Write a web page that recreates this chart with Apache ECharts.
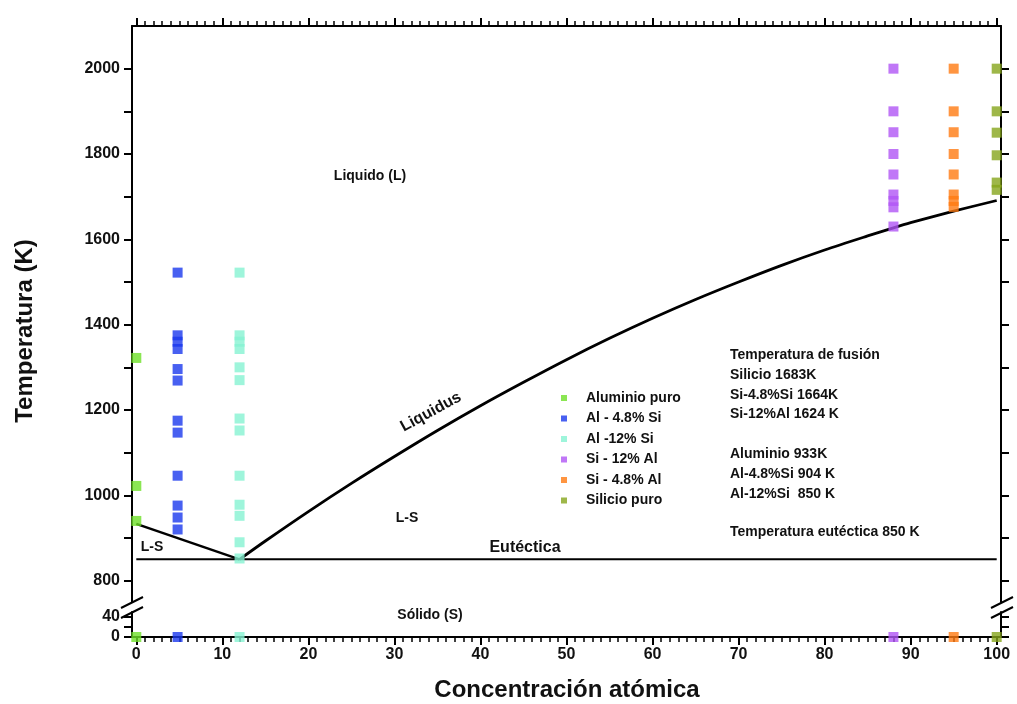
<!DOCTYPE html>
<html><head><meta charset="utf-8">
<script src="https://cdn.jsdelivr.net/npm/echarts@6/dist/echarts.min.js"></script>
<style>html,body{margin:0;padding:0;background:#fff}#c{width:1017px;height:704px}</style>
</head><body><div id="c"></div>
<script>
// ---- data ----
const seriesNames = ['Aluminio puro', 'Al - 4.8% Si', 'Al -12% Si', 'Si - 12% Al', 'Si - 4.8% Al', 'Silicio puro'];
const seriesColors = ['#6ee028', '#1a38ee', '#86f2d2', '#b055f5', '#ff7a12', '#86a51c'];
const compositions = [0, 4.8, 12, 88, 95, 100];
const alPuroT = [1322, 1022, 940];
const al48T = [1522, 1375, 1360, 1343, 1296, 1269, 1175, 1147, 1046, 976, 948, 920];
const al12T = [1522, 1375, 1360, 1343, 1300, 1270, 1180, 1152, 1046, 978, 952, 890, 852];
const si12T = [2000, 1900, 1851, 1800, 1752, 1705, 1690, 1675, 1630];
const si48T = [2000, 1900, 1851, 1800, 1752, 1705, 1690, 1676];
const siPuroT = [2000, 1900, 1850, 1797, 1733, 1716];
const solidT = [0, 0, 0, 0, 0, 0];
const liquidusX = [12, 15, 20, 25, 30, 35, 40, 45, 50, 55, 60, 65, 70, 75, 80, 85, 88, 90, 95, 100];
const liquidusT = [850, 893, 962, 1028, 1091, 1152, 1210, 1265, 1318, 1368, 1415, 1459, 1500, 1539, 1575, 1608, 1627, 1639, 1666, 1691];
const alSideX = [0, 12];
const alSideT = [933, 850];
const eutecticX = [0, 100];
const eutecticT = [850, 850];
const xMajorTicks = [0, 10, 20, 30, 40, 50, 60, 70, 80, 90, 100];
const xMinorTicks = Array.from({length: 101}, (_, i) => i);
const yUpperTicks = [800, 900, 1000, 1100, 1200, 1300, 1400, 1500, 1600, 1700, 1800, 1900, 2000];
const yUpperLabels = [800, 1000, 1200, 1400, 1600, 1800, 2000];
const yLowerTicks = [0, 20, 40];
const yLowerLabels = [0, 40];
const infoLines = [
  ['Temperatura de fusión', 355], ['Silicio 1683K', 375], ['Si-4.8%Si 1664K', 395], ['Si-12%Al 1624 K', 414],
  ['Aluminio 933K', 454], ['Al-4.8%Si 904 K', 474], ['Al-12%Si  850 K', 494], ['Temperatura eutéctica 850 K', 532]
];
// ---------------
const FONT = '"Liberation Sans", Arial, sans-serif';
const upperT = [alPuroT, al48T, al12T, si12T, si48T, siPuroT];
const chart = echarts.init(document.getElementById('c'));
const axLine = {show: true, onZero: false, lineStyle: {color: '#000', width: 2}};
const tickStyle = {color: '#000', width: 2};
const plain = v => String(v);
const series = [];
series.push({type: 'line', xAxisIndex: 0, yAxisIndex: 0, data: liquidusX.map((x, i) => [x, liquidusT[i]]), smooth: 0.3, symbol: 'none', lineStyle: {color: '#000', width: 2.8}, z: 1, silent: true});
series.push({type: 'line', xAxisIndex: 0, yAxisIndex: 0, data: alSideX.map((x, i) => [x, alSideT[i]]), symbol: 'none', lineStyle: {color: '#000', width: 2.5}, z: 1, silent: true});
series.push({type: 'line', xAxisIndex: 0, yAxisIndex: 0, data: eutecticX.map((x, i) => [x, eutecticT[i]]), symbol: 'none', lineStyle: {color: '#000', width: 2}, z: 1, silent: true});
seriesNames.forEach((n, k) => {
  series.push({name: n, type: 'scatter', xAxisIndex: 0, yAxisIndex: 0, symbol: 'rect', symbolSize: 10,
    itemStyle: {color: seriesColors[k]}, data: upperT[k].map(t => [compositions[k], t]), z: 3, clip: false});
  series.push({name: n, type: 'scatter', xAxisIndex: 2, yAxisIndex: 2, symbol: 'rect', symbolSize: 10,
    itemStyle: {color: seriesColors[k]}, data: [[compositions[k], solidT[k]]], z: 3, clip: false});
});
const txt = (text, x, y, size, extra) => Object.assign({type: 'text', x: x, y: y, silent: true,
  style: {text: text, font: 'bold ' + size + 'px ' + FONT, fill: '#111', textAlign: 'center', textVerticalAlign: 'middle', align: 'center', verticalAlign: 'middle'}}, extra || {});
const graphics = [
  txt('Temperatura (K)', 25, 331, 24, {rotation: Math.PI / 2}),
  txt('Concentración atómica', 567, 690, 24),
  txt('Liquido (L)', 370, 176, 14),
  txt('L-S', 152, 547, 14),
  txt('L-S', 407, 518, 14),
  txt('Eutéctica', 525, 548, 16),
  txt('Sólido (S)', 430, 615, 14),
  txt('Liquidus', 431, 412, 16, {rotation: 0.5}),
  {type: 'line', shape: {x1: 121, y1: 608, x2: 143, y2: 597}, style: {stroke: '#000', lineWidth: 2}},
  {type: 'line', shape: {x1: 121, y1: 618, x2: 143, y2: 607}, style: {stroke: '#000', lineWidth: 2}},
  {type: 'line', shape: {x1: 991, y1: 608, x2: 1013, y2: 597}, style: {stroke: '#000', lineWidth: 2}},
  {type: 'line', shape: {x1: 991, y1: 618, x2: 1013, y2: 607}, style: {stroke: '#000', lineWidth: 2}}
];
infoLines.forEach(([t, y]) => graphics.push({type: 'text', x: 730, y: y, silent: true,
  style: {text: t, font: 'bold 14px ' + FONT, fill: '#111', textAlign: 'left', textVerticalAlign: 'middle', align: 'left', verticalAlign: 'middle'}}));
const gridBase = {left: 132, right: 16, outerBoundsMode: 'none', containLabel: false};
const tickLabel = {fontSize: 16, fontWeight: 'bold', color: '#111', fontFamily: FONT, formatter: plain};
chart.setOption({
  animation: false,
  backgroundColor: '#fff',
  grid: [
    Object.assign({top: 26, height: 576}, gridBase),
    Object.assign({top: 612, height: 25}, gridBase),
    Object.assign({top: 26, height: 611}, gridBase)
  ],
  xAxis: [
    {gridIndex: 0, type: 'value', position: 'bottom', min: -0.5, max: 100.5, show: false},
    {gridIndex: 0, type: 'value', position: 'top', min: -0.5, max: 100.5, axisLine: axLine,
      axisTick: {show: true, customValues: xMajorTicks, length: 8, lineStyle: tickStyle}, axisLabel: {show: false}, splitLine: {show: false}},
    {gridIndex: 1, type: 'value', position: 'bottom', min: -0.5, max: 100.5, axisLine: axLine,
      axisTick: {show: true, customValues: xMajorTicks, length: 8, lineStyle: tickStyle},
      axisLabel: Object.assign({customValues: xMajorTicks, margin: 10}, tickLabel),
      splitLine: {show: false}},
    {gridIndex: 2, type: 'value', position: 'bottom', min: -0.5, max: 100.5, axisLine: {show: false},
      axisTick: {show: true, customValues: xMinorTicks, length: 5, lineStyle: {color: '#000', width: 1.5}}, axisLabel: {show: false}, splitLine: {show: false}},
    {gridIndex: 2, type: 'value', position: 'top', min: -0.5, max: 100.5, axisLine: {show: false},
      axisTick: {show: true, customValues: xMinorTicks, length: 5, lineStyle: {color: '#000', width: 1.5}}, axisLabel: {show: false}, splitLine: {show: false}}
  ],
  yAxis: [
    {gridIndex: 0, type: 'value', position: 'left', min: 750, max: 2100, axisLine: axLine,
      axisTick: {show: true, customValues: yUpperTicks, length: 8, lineStyle: tickStyle},
      axisLabel: Object.assign({customValues: yUpperLabels, margin: 12}, tickLabel),
      splitLine: {show: false}},
    {gridIndex: 0, type: 'value', position: 'right', min: 750, max: 2100, axisLine: axLine,
      axisTick: {show: true, customValues: yUpperTicks, length: 8, lineStyle: tickStyle}, axisLabel: {show: false}, splitLine: {show: false}},
    {gridIndex: 1, type: 'value', position: 'left', min: 0, max: 50, axisLine: axLine,
      axisTick: {show: true, customValues: yLowerTicks, length: 8, lineStyle: tickStyle},
      axisLabel: Object.assign({customValues: yLowerLabels, margin: 12}, tickLabel),
      splitLine: {show: false}},
    {gridIndex: 1, type: 'value', position: 'right', min: 0, max: 50, axisLine: axLine,
      axisTick: {show: true, customValues: yLowerTicks, length: 8, lineStyle: tickStyle}, axisLabel: {show: false}, splitLine: {show: false}},
    {gridIndex: 2, type: 'value', min: 0, max: 1, show: false}
  ],
  legend: {
    data: seriesNames, orient: 'vertical', left: 556, top: 385, itemWidth: 6, itemHeight: 6, itemGap: 4.5,
    icon: 'rect', selectedMode: false,
    textStyle: {fontSize: 14, fontWeight: 'bold', color: '#111', fontFamily: FONT, lineHeight: 16, padding: [0, 0, 0, 14]}
  },
  graphic: graphics,
  series: series
});
</script></body></html>
